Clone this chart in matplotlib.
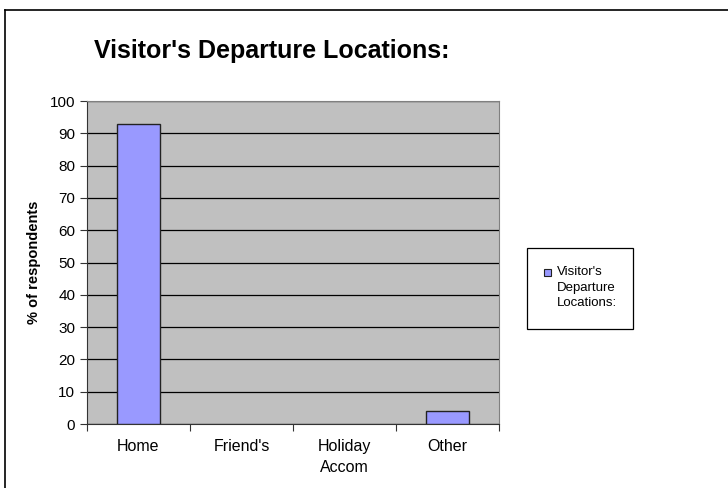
import matplotlib.pyplot as plt
from matplotlib.lines import Line2D
from matplotlib.patches import Rectangle

plt.rcParams["font.family"] = ["Liberation Sans", "DejaVu Sans"]

categories = ["Home", "Friend's", "Holiday\nAccom", "Other"]
values = [93, 0, 0, 4]
series_name = "Visitor's\nDeparture\nLocations:"
title = "Visitor's Departure Locations:"

fig = plt.figure(figsize=(7.28, 4.88), dpi=100)
ax = fig.add_axes([0.1195, 0.1311, 0.5659, 0.6619])

# zero-height bars leave no visible mark in the reference
shown = [(i, v) for i, v in enumerate(values) if v > 0]
ax.bar([i for i, _ in shown], [v for _, v in shown], width=0.42,
       color="#9999FF", edgecolor="#222222", linewidth=1.0, zorder=3)

ax.set_facecolor("#C0C0C0")
ax.set_xlim(-0.5, len(categories) - 0.5)
ax.set_ylim(0, 100)
ax.set_yticks(range(0, 101, 10))
ax.yaxis.grid(True, color="black", linewidth=0.9)
ax.set_axisbelow(True)

ax.set_xticks([i - 0.5 for i in range(len(categories) + 1)])
ax.set_xticklabels([])
ax.set_xticks(list(range(len(categories))), minor=True)
ax.set_xticklabels(categories, minor=True, fontsize=11.5, linespacing=1.45)
ax.tick_params(axis="x", which="minor", length=0, pad=11)
ax.tick_params(axis="x", which="major", length=5, color="#333333")
ax.tick_params(axis="y", length=5, labelsize=11, color="#333333")

for s in ["top", "right"]:
    ax.spines[s].set_color("#808080")
for s in ["left", "bottom"]:
    ax.spines[s].set_color("#333333")

ax.set_ylabel("% of respondents", fontsize=10.5, fontweight="bold", labelpad=6)
fig.text(272 / 728, 1 - 51 / 488, title, fontsize=18, fontweight="bold",
         ha="center", va="center")

# legend box
fig.patches.append(Rectangle((527 / 728, 1 - 329 / 488), 106 / 728, 81 / 488,
                             transform=fig.transFigure, facecolor="white",
                             edgecolor="black", linewidth=0.9))
fig.patches.append(Rectangle((544 / 728, 1 - 276 / 488), 7 / 728, 7 / 488,
                             transform=fig.transFigure, facecolor="#9999FF",
                             edgecolor="#222222", linewidth=0.8))
fig.text(557 / 728, 1 - 266 / 488, series_name, fontsize=9.5, ha="left", va="top",
         linespacing=1.4)

# outer chart border
fig.lines.append(Line2D([5 / 728, 1], [1 - 10 / 488, 1 - 10 / 488], transform=fig.transFigure,
                        color="black", linewidth=1.2))
fig.lines.append(Line2D([5 / 728, 5 / 728], [0, 1 - 10 / 488], transform=fig.transFigure,
                        color="black", linewidth=1.2))

fig.savefig("out.png", dpi=100)
